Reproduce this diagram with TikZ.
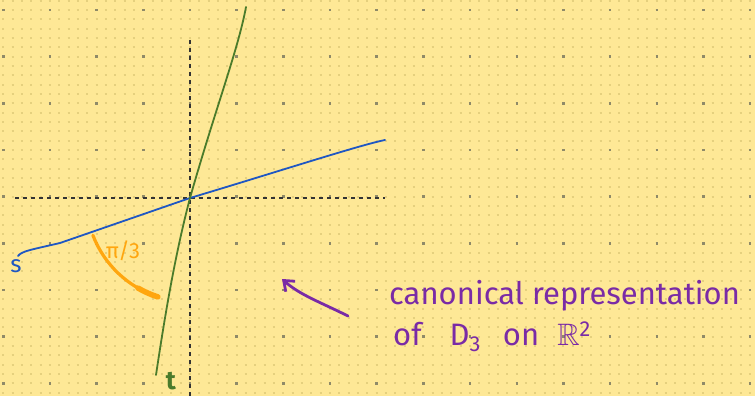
\documentclass[tikz,border=0pt]{standalone}
\usepackage{amssymb}
\usepackage{fontspec}
\setmainfont{Fira Sans}
\usepackage{tikz}
\usetikzlibrary{arrows.meta}

\definecolor{paper}{HTML}{FEE896}
\definecolor{dotlight}{HTML}{E5D07E}
\definecolor{dotdark}{HTML}{8F8A68}
\definecolor{sblue}{HTML}{1F57C3}
\definecolor{tgreen}{HTML}{4B7B2B}
\definecolor{anglecol}{HTML}{FFA60F}
\definecolor{notecol}{HTML}{7A2BA6}

\begin{document}
\begin{tikzpicture}[
    x=1pt, y=-1pt,
    axis/.style={
        dashed,
        dash pattern=on 4pt off 4pt,
        line width=1.2pt,
        draw=black!80
    },
    mirror/.style={
        line width=1.8pt,
        line cap=round
    },
    ink/.style={
        font=\fontsize{31}{36}\selectfont,
        text=notecol,
        inner sep=0pt,
        anchor=west
    }
]

% ==================================================
% Dotted paper
% ==================================================

\fill[paper] (0,0) rectangle (755,396);
\useasboundingbox (0,0) rectangle (755,396);

% Small dots
\foreach \r in {0,...,42} {
    \draw[dotlight, line width=2.2pt, dash pattern=on 2.2pt off 7.133pt]
        (2.23,0.67+9.333*\r) -- (755,0.67+9.333*\r);
}

% Large dots
\foreach \r in {0,...,8} {
    \draw[dotdark, line width=2.4pt, dash pattern=on 2.4pt off 44.27pt]
        (2.13,10+46.67*\r) -- (755,10+46.67*\r);
}

% ==================================================
% Axes
% ==================================================

\coordinate (origin) at (190,198);
\draw[axis] (190,40) -- (190,396);
\draw[axis] (15,198) -- (385,198);

% ==================================================
% Reflection lines
% ==================================================

% Line s
\draw[mirror, sblue]
    (18,256) .. controls (22,251) and (30,250) .. (60,243)
    -- (origin)
    .. controls (280,171) and (360,145) .. (385,140);

% Line t
\draw[mirror, tgreen]
    (156,375) .. controls (165,315) and (175,255) .. (origin)
    .. controls (215,110) and (238,50) .. (246,7);

\node[text=sblue, font=\fontsize{24}{24}\selectfont] (slabel) at (16,266) {s};
\node[text=tgreen, font=\bfseries\fontsize{26}{26}\selectfont] (tlabel) at (171,381) {t};

% ==================================================
% Angle between s and t
% ==================================================

\draw[anglecol, line width=3.2pt, line cap=round]
    (origin) ++(159:104) arc[start angle=159, end angle=108, radius=104];
\draw[anglecol, line width=5.5pt, line cap=round]
    (origin) ++(120:104) arc[start angle=120, end angle=108, radius=104];

\node[text=anglecol, font=\fontsize{22}{22}\selectfont] (angle) at (123,251)
    {π/3};

% ==================================================
% Note
% ==================================================

\node[ink] (note1) at (389,296) {canonical representation};
\node[ink] (note2) at (393,337)
    {of\hspace{28pt}D\textsubscript{3}\hspace{22pt}on\hspace{18pt}$\mathbb{R}$\textsuperscript{2}};

\coordinate (tail) at (348,316);
\coordinate (head) at (282,279);
\draw[notecol, line width=2.8pt, line cap=round,
      -{Straight Barb[length=9pt, width=14pt]}]
    (tail) .. controls (320,302) and (300,295) .. (head);

\end{tikzpicture}
\end{document}
